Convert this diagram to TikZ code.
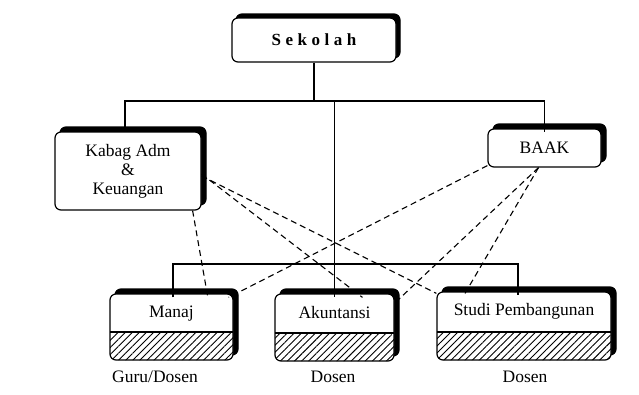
\documentclass[tikz,border=0pt]{standalone}
\usepackage{fontspec}
\setmainfont{Liberation Serif}
\usetikzlibrary{shadows,patterns.meta,calc}
\begin{document}
\begin{tikzpicture}[x=1pt,y=-1pt,
  box/.style={draw, line width=1.2pt, fill=white, rounded corners=6pt, inner sep=0pt,
     general shadow={fill=black, draw=black, shadow xshift=#1, shadow yshift=#1}},
  box/.default=5pt,
  hatchbox/.style={box, path picture={
     \fill[pattern={Lines[angle=45,distance=5pt,line width=0.9pt]}] (path picture bounding box.south west) rectangle ([yshift=28pt]path picture bounding box.south east);
     \draw[line width=1.2pt] ([yshift=28pt]path picture bounding box.south west) -- ([yshift=28pt]path picture bounding box.south east);}},
  lbl/.style={font=\fontsize{17.5}{19}\selectfont, inner sep=0pt},
  tree/.style={line width=1.3pt},
  rel/.style={line width=1.1pt, dash pattern=on 6pt off 4pt}]
\useasboundingbox[fill=white] (0,0) rectangle (639,394);

% boxes
\node[box=4pt, minimum width=164pt, minimum height=44pt, inner sep=0pt,
      font=\fontsize{17}{19}\selectfont\bfseries] (sek) at (314,40)
      {S\kern4.5pt e\kern4.5pt k\kern4.5pt o\kern4.5pt l\kern4.5pt a\kern4.5pt h};
\node[box, lbl, minimum width=146pt, minimum height=78pt, align=center] (kab) at (128,171)
      {Kabag Adm\\\&\\Keuangan};
\node[box, lbl, minimum width=113pt, minimum height=38pt] (baak) at (544.5,148) {BAAK};

\node[hatchbox, minimum width=123pt, minimum height=66pt] (man) at (171.5,327) {};
\node[hatchbox, minimum width=119pt, minimum height=67pt] (ak) at (334.5,327.5) {};
\node[hatchbox, minimum width=174pt, minimum height=68pt] (st) at (524,326) {};

\node[lbl] (manT) at ($(man.north)+(0,20)$) {Manaj};
\node[lbl] (akT) at ($(ak.north)+(0,19)$) {Akuntansi};
\node[lbl] (stT) at ($(st.north)+(0,20)$) {Studi Pembangunan};

\node[lbl] (manD) at (155,377) {Guru/Dosen};
\node[lbl] (akD) at (333,377) {Dosen};
\node[lbl] (stD) at (525,377) {Dosen};

% tree
\coordinate (h1) at (0,101);
\coordinate (h2) at (0,264);
\draw[tree] (sek.south) -- (sek.south |- h1);
\draw[tree] ([xshift=-3pt]kab.north) |- (baak.north |- h1) -- ([yshift=-4pt]baak.north);
\draw[tree] (ak.north |- h1) -- ([yshift=-4pt]ak.north);
\draw[tree] ([xshift=1.5pt,yshift=-4pt]man.north) |- ([xshift=-6pt]st.north |- h2) -- ([xshift=-6pt,yshift=-4pt]st.north);

% relations
\draw[rel] ([xshift=-9pt]kab.south east) -- ([xshift=36pt,yshift=-2pt]man.north);
\draw[rel] ([yshift=-5pt]kab.east) -- ([yshift=-2pt]st.north west);
\draw[rel] ([yshift=-3pt]kab.east) -- ([xshift=28pt,yshift=-4pt]ak.north);
\draw[rel] ([yshift=2pt]baak.south west) -- ([xshift=-5pt,yshift=-4pt]man.north east);
\draw[rel] ([xshift=-6pt]baak.south) -- ([xshift=4pt,yshift=-6pt]ak.north east);
\draw[rel] ([xshift=-6pt]baak.south) -- ([xshift=-59pt,yshift=-2pt]st.north);
\end{tikzpicture}
\end{document}
